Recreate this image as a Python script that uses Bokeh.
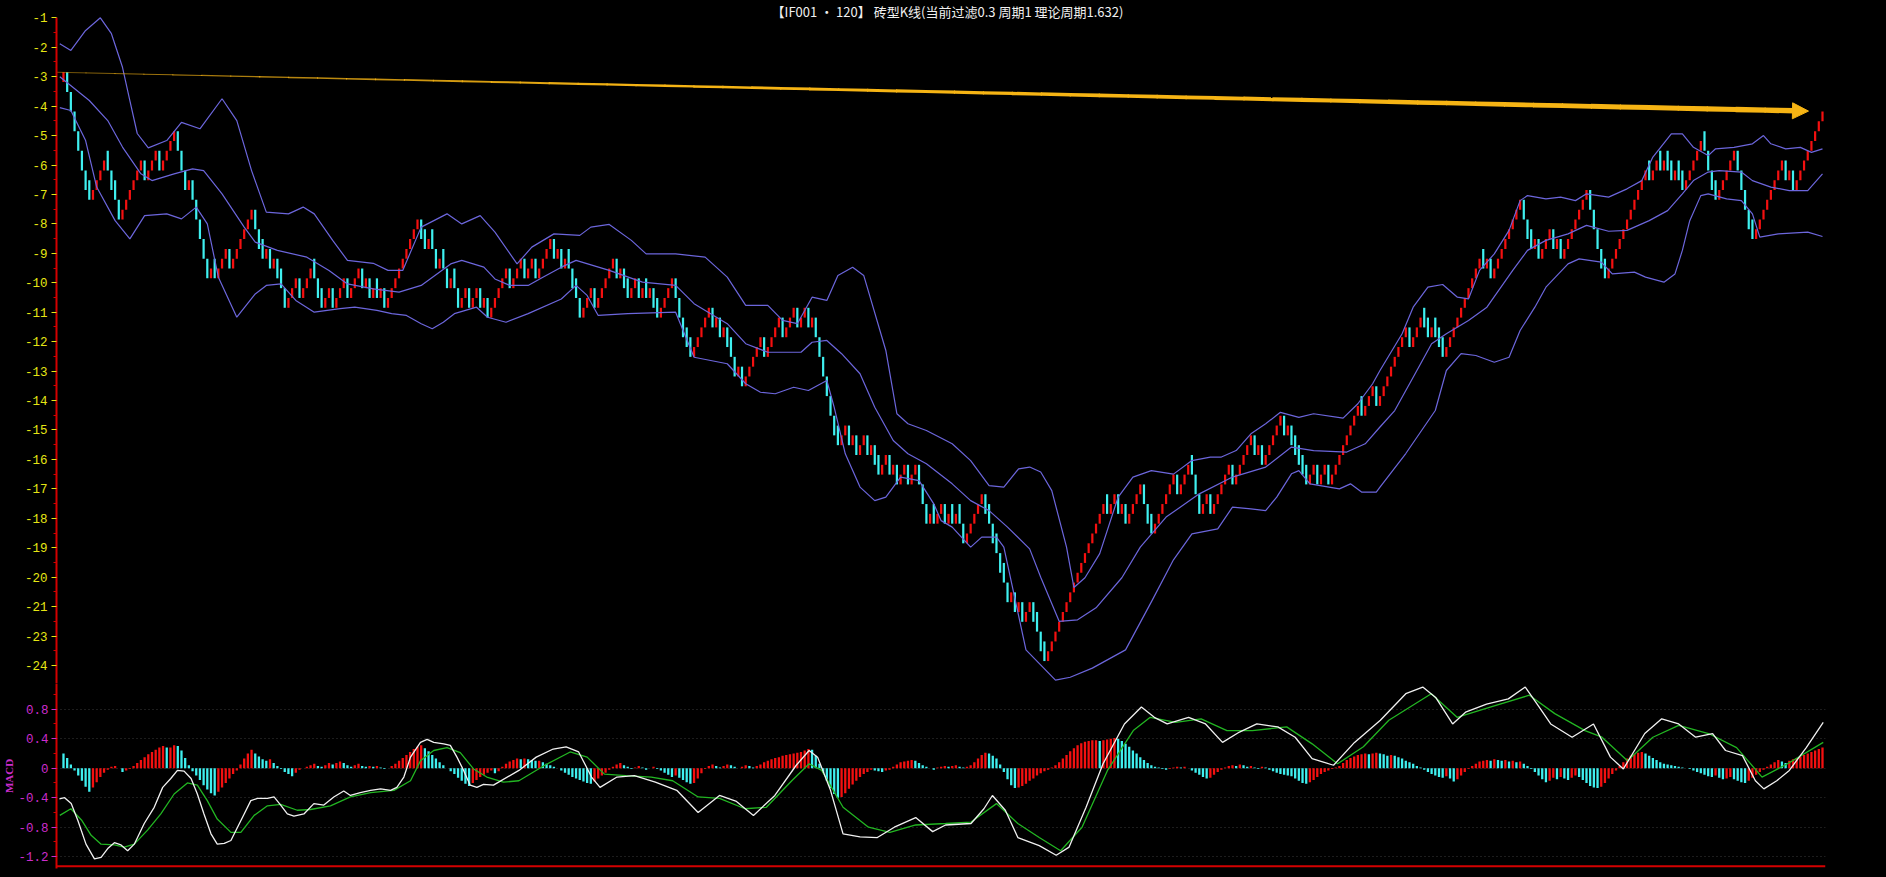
from bokeh.plotting import figure
from bokeh.layouts import column
from bokeh.models import Range1d, FixedTicker, Label, Span, Arrow, NormalHead
from bokeh.embed import file_html
from bokeh.resources import INLINE

# ---------------------------------------------------------------- data
TITLE = "【IF001 · 120】 砖型K线(当前过滤0.3 周期1 理论周期1.632)"

BRICK = 1.0 / 3.0          # brick size (price units)
FIRST_CLOSE = -2.85        # close of the first (red) brick
# one letter per bar after the first: u = up one brick (red), d = down one brick (cyan), D = down two bricks (cyan)
BAR_MOVES = (
    "DDDDDD" "d" "uuuu" "dDdDu" "uuuuu" "Du" "uuDuuuu" "DDDuDDDDDud" "uuuDuuuuuu" "DDd"
    "uDu" "DdDu" "uuDuuu" "dDd" "uuDuuu" "D" "uuu" "DuDuduD" "uuuuuuuuu" "DdudDudDu"
    "dDu" "uDuuDuDuu" "uu" "u" "Duuu" "DuuDuuuu" "DuDu" "dDdDu" "uuDuuuuu" "DuDdu"
    "uDudu" "Dd" "uuuu" "DDDdd" "uuuuu" "DuDuD" "dDuDu" "uuuuDuuuuDuuuDuu" "DuDDDDDDd"
    "uuDuDuuDu" "Dd" "uuDuDuuDuu" "DDDud" "uu" "DududD" "uuuuu" "DdDdDdDuD" "uDuuD" "dDdu"
    "uuuuuuuuuuuuuuuduuDu" "Duuuu" "DDd" "uuuuuuD" "uuu" "dDDu" "uDuuuuuDuuuuu" "DuDuuuuu"
    "DuDdddd" "uuDuuDuu" "uuuuuuduuu" "Du" "uuuuuuu" "Duuu" "dduddd" "uuuuuuuuuu" "d" "uDu"
    "uuuuuuu" "DDd" "uDuuuDuDu" "uuuuuu" "DDDDd" "uuuuuuuuuuu" "d" "uu" "dudduddu" "uuuud"
    "DDd" "uuuuu" "DDDDdu" "uuuuuuu" "DuD" "uuuuuuuu"
)

PRICE_TICKS = [-1, -2, -3, -4, -5, -6, -7, -8, -9, -10, -11, -12, -13, -14, -15, -16,
               -17, -18, -19, -20, -21, -22, -23]
PRICE_LABELS = ["-1", "-2", "-3", "-4", "-5", "-6", "-7", "-8", "-9", "-10", "-11", "-12",
                "-13", "-14", "-15", "-16", "-17", "-18", "-19", "-20", "-21", "-23", "-24"]
PRICE_MINOR = [-1.5, -2.5, -3.5, -4.5, -5.5, -6.5, -7.5, -8.5, -9.5, -10.5, -11.5, -12.5,
               -13.5, -14.5, -15.5, -16.5, -17.5, -18.5, -19.5, -20.5, -21.5, -22.5]

BB_UP_I = [-1, 2, 6, 10, 13, 16, 18, 20, 23, 28, 32, 37, 43, 47, 51, 55, 61, 65, 68, 73,
           77, 84, 88, 92, 97, 104, 108, 113, 117, 123, 127, 133, 140, 143, 148, 154, 158, 166, 174, 180,
           185, 191, 195, 199, 203, 207, 210, 214, 217, 219, 223, 226, 229, 234, 241, 246, 251, 255, 259, 262,
           265, 268, 272, 274, 277, 281, 286, 290, 295, 301, 306, 311, 314, 318, 322, 326, 330, 335, 339, 347,
           351, 355, 357, 363, 366, 370, 374, 378, 381, 384, 388, 392, 395, 397, 402, 406, 410, 413, 419, 424,
           428, 431, 436, 439, 442, 446, 448, 453, 458, 461, 463, 467, 471, 474, 477]
BB_UP = [-1.88, -2.11, -1.43, -1.0, -1.54, -2.68, -3.81, -4.93, -5.42, -5.17,
         -4.55, -4.77, -3.75, -4.49, -6.19, -7.60, -7.66, -7.43, -7.66, -8.56,
         -9.24, -9.34, -9.58, -9.58, -8.11, -7.66, -8.0, -7.72, -8.28, -9.36,
         -8.79, -8.34, -8.39, -8.11, -8.02, -8.56, -9.02, -9.02, -9.13, -9.81,
         -10.77, -10.77, -11.28, -11.39, -10.49, -10.6, -9.75, -9.47, -9.75, -10.6,
         -12.3, -14.45, -14.79, -15.02, -15.47, -16.04, -16.89, -16.94, -16.32, -16.26,
         -16.43, -17.06, -18.98, -20.35, -20.02, -19.2, -17.28, -16.6, -16.38, -16.5,
         -16.04, -15.92, -15.92, -15.7, -15.13, -14.79, -14.4, -14.57, -14.45, -14.6,
         -14.11, -13.43, -12.98, -11.73, -10.83, -10.15, -10.06, -10.49, -10.55, -9.58,
         -9.02, -8.22, -7.21, -7.04, -7.15, -7.09, -7.21, -6.98, -7.09, -6.81,
         -6.53, -5.73, -4.94, -4.94, -5.4, -5.68, -5.45, -5.4, -5.28, -5.0,
         -5.28, -5.45, -5.4, -5.57, -5.45]

BB_MID_I = [-1, 7, 12, 16, 21, 24, 30, 35, 38, 43, 49, 52, 58, 66, 72, 77, 84, 91, 97, 105,
            108, 114, 117, 121, 126, 130, 135, 139, 148, 157, 166, 171, 180, 185, 191, 200, 203, 207, 211, 216,
            220, 225, 229, 234, 241, 246, 251, 256, 262, 265, 270, 275, 280, 287, 292, 299, 308, 317, 326, 333,
            339, 348, 353, 357, 361, 366, 371, 375, 381, 386, 393, 397, 402, 408, 413, 419, 424, 430, 435, 439,
            442, 446, 449, 455, 458, 463, 468, 473, 477]
BB_MID = [-3.0, -3.81, -4.49, -5.39, -6.3, -6.53, -6.3, -6.13, -6.19, -6.98,
          -8.11, -8.62, -8.9, -9.13, -9.58, -10.04, -10.21, -10.32, -10.09, -9.36,
          -9.24, -9.47, -9.87, -10.09, -10.09, -9.81, -9.47, -9.24, -9.58, -9.98,
          -10.09, -10.71, -11.39, -12.07, -12.36, -12.36, -12.02, -11.96, -12.41, -13.09,
          -14.23, -15.36, -15.81, -16.15, -16.83, -17.40, -17.74, -18.3, -19.04, -20.0,
          -21.5, -21.45, -21.04, -20.02, -18.98, -17.96, -17.17, -16.6, -16.26, -15.58,
          -15.7, -15.75, -15.47, -14.9, -14.34, -13.21, -12.07, -11.73, -11.28, -10.83,
          -9.58, -8.9, -8.56, -8.34, -8.05, -8.25, -8.22, -7.89, -7.55, -6.98,
          -6.53, -6.24, -6.19, -6.24, -6.53, -6.75, -6.87, -6.87, -6.3]

BB_LOW_I = [-1, 2, 6, 9, 14, 18, 22, 28, 32, 36, 39, 42, 47, 52, 55, 59, 63, 68, 75, 79,
            85, 89, 93, 97, 100, 103, 106, 112, 115, 120, 126, 135, 139, 142, 145, 153, 166, 171, 180, 185,
            189, 193, 198, 202, 207, 209, 212, 216, 220, 223, 227, 232, 236, 238, 241, 246, 249, 253, 255, 261,
            269, 273, 279, 288, 295, 301, 306, 313, 317, 322, 326, 329, 333, 335, 338, 346, 349, 352, 356, 357,
            364, 372, 375, 379, 383, 388, 392, 395, 399, 402, 408, 411, 417, 420, 426, 429, 434, 437, 439, 441,
            444, 446, 451, 455, 458, 460, 465, 473, 477]
BB_LOW = [-4.05, -4.15, -5.17, -6.75, -7.89, -8.51, -7.72, -7.66, -7.83, -7.43,
          -8.0, -9.81, -11.17, -10.38, -10.09, -10.04, -10.6, -11.0, -10.88, -10.83,
          -10.94, -11.05, -11.11, -11.39, -11.56, -11.34, -11.05, -10.83, -11.17, -11.34,
          -11.05, -10.55, -10.09, -10.43, -11.11, -11.05, -11.0, -12.53, -12.75, -13.43,
          -13.72, -13.77, -13.55, -13.66, -13.32, -14.23, -15.81, -16.94, -17.40, -17.28,
          -16.6, -16.72, -17.51, -18.08, -18.3, -18.98, -18.64, -18.64, -18.98, -22.47,
          -23.5, -23.4, -23.09, -22.47, -20.84, -19.41, -18.53, -18.36, -17.62, -17.68,
          -17.74, -17.28, -16.49, -16.38, -16.83, -17.0, -16.83, -17.11, -17.11, -16.94,
          -15.8, -14.34, -12.98, -12.41, -12.47, -12.7, -12.53, -11.62, -10.83, -10.15,
          -9.36, -9.19, -9.3, -9.7, -9.64, -9.81, -9.98, -9.7, -8.9, -7.89,
          -7.04, -6.98, -7.15, -7.21, -7.66, -8.45, -8.34, -8.28, -8.43]

ARROW_I = [-1.9, 473.2]      # trend arrow: start / tip (bar index)
ARROW_V = [-2.85, -4.17]     # trend arrow: start / tip (price)

# MACD histogram, one value per bar, in hundredths
MACD_HIST_X100 = [
    20, 14, 5, -3, -10, -17, -25, -32, -26, -19, -12, -6, -2, 2, 3, 0, -5, -3, -1, 3,
    7, 11, 15, 19, 22, 25, 28, 30, 28, 28, 31, 30, 24, 14, 4, -4, -10, -16, -23, -29,
    -34, -37, -32, -26, -20, -14, -8, -3, 5, 13, 20, 25, 20, 16, 12, 10, 12, 7, 3, -1,
    -5, -8, -11, -6, -2, 0, 2, 4, 6, 3, 2, 4, 7, 5, 7, 9, 7, 4, 2, 4,
    6, 3, 2, 3, 2, 3, 1, -1, 0, 3, 6, 10, 14, 18, 22, 26, 29, 31, 27, 23,
    18, 13, 8, 4, 0, -4, -8, -13, -17, -21, -24, -20, -16, -12, -9, -6, -3, -7, -4, 2,
    6, 9, 11, 13, 12, 13, 12, 11, 10, 10, 8, 6, 4, 2, 0, -3, -6, -9, -12, -14,
    -16, -18, -20, -21, -18, -14, -10, -6, -2, 2, 5, 7, 4, 2, -1, 1, 3, 1, -2, 0,
    2, -1, -3, -6, -9, -12, -10, -13, -16, -19, -21, -20, -14, -7, -1, 3, 5, 3, 1, 3,
    5, 4, 2, 0, 2, 4, 3, 1, 3, 5, 8, 10, 12, 14, 15, 17, 18, 19, 20, 21,
    22, 24, 26, 25, 17, 6, -6, -17, -27, -35, -40, -39, -34, -28, -22, -17, -12, -8, -5, -2,
    -3, -4, -5, -3, -2, 2, 5, 8, 9, 10, 11, 10, 7, 4, 2, 0, -2, 1, 2, 3,
    2, 3, 4, 2, 1, 2, 4, 8, 13, 18, 21, 20, 17, 13, 5, -5, -15, -23, -27, -26,
    -24, -21, -17, -14, -10, -7, -4, -2, 1, 4, 8, 13, 18, 23, 27, 31, 34, 36, 37, 38,
    38, 37, 38, 39, 40, 41, 40, 37, 33, 29, 24, 20, 15, 11, 7, 4, 2, 1, -1, -2,
    -1, 1, 2, 1, 2, 0, -3, -6, -9, -12, -14, -13, -9, -5, -2, 1, 3, 4, 3, 5,
    4, 2, 3, 1, -1, 2, 1, -2, -4, -6, -8, -9, -10, -11, -14, -17, -20, -21, -19, -16,
    -12, -8, -5, -3, -1, 1, 3, 7, 11, 14, 16, 18, 19, 20, 19, 20, 21, 20, 19, 17,
    18, 17, 15, 13, 10, 8, 6, 3, 1, -2, -5, -8, -10, -12, -13, -11, -14, -18, -15, -10,
    -5, -1, 3, 6, 9, 10, 11, 10, 12, 11, 10, 11, 9, 10, 8, 9, 6, 3, -1, -5,
    -10, -15, -19, -17, -13, -15, -12, -14, -16, -13, -10, -12, -16, -20, -24, -26, -27, -25, -20, -14,
    -8, -3, 3, 8, 13, 17, 19, 21, 22, 20, 17, 14, 11, 8, 6, 5, 4, 3, 2, 1,
    0, -1, -3, -5, -7, -9, -11, -12, -10, -13, -15, -14, -12, -15, -17, -19, -20, -17, -13, -9,
    -5, -2, 2, 5, 8, 11, 9, 7, 10, 12, 14, 16, 18, 20, 22, 24, 26, 28,
]

DIF_I = [-1.1, 0.3, 2.1, 3.9, 6.1, 8.4, 10.2, 12, 13.8, 15.6,
         17.4, 19.2, 21.9, 24.6, 26.9, 29.1, 30.9, 32.7, 34.6, 36.3,
         38.1, 40, 41.7, 43.6, 45.4, 47.2, 49, 50.8, 52.6, 55.3,
         57.1, 58.9, 60.7, 62.5, 65.2, 67.9, 70.6, 73.3, 76, 77.8,
         80.5, 83.3, 86, 88.7, 90.4, 92.3, 94.1, 96.8, 98.6, 100.4,
         103.1, 104.9, 106.7, 108.5, 110.3, 112.1, 113.9, 116.6, 123.5, 128.2,
         132.8, 136.3, 139.7, 143.2, 145.5, 150.1, 154.8, 160.5, 166.3, 172.1,
         177.9, 182.5, 187.1, 192.9, 198.7, 202.2, 204.5, 208, 211.4, 216,
         220.7, 225.3, 231.1, 235.7, 239.2, 246.1, 249.6, 251.9, 255.4, 258.8,
         264.6, 269.2, 272.7, 277.3, 281.9, 287.7, 292.3, 295.8, 299.3, 305.1,
         309.7, 314.3, 318.9, 323.6, 329.3, 334, 338.6, 344.4, 350.1, 357.1,
         364, 368.6, 372.1, 376.7, 380.2, 385.9, 391.8, 396.4, 399.9, 403.3,
         409.1, 414.9, 419.5, 423, 428.8, 433.4, 438, 442.6, 447.2, 450.7,
         455.3, 458.8, 461.1, 464.6, 468, 472.6, 477.2]
DIF = [-0.415, -0.40, -0.48, -0.71, -1.03, -1.23, -1.21, -1.09, -1.01, -1.04,
       -1.12, -1.03, -0.75, -0.53, -0.26, -0.14, -0.03, -0.04, -0.14, -0.35,
       -0.62, -0.89, -1.03, -1.02, -0.98, -0.80, -0.62, -0.44, -0.41, -0.41,
       -0.39, -0.50, -0.62, -0.65, -0.62, -0.48, -0.50, -0.39, -0.31, -0.37,
       -0.33, -0.30, -0.28, -0.30, -0.26, -0.12, 0.15, 0.35, 0.39, 0.35,
       0.33, 0.31, 0.15, -0.03, -0.23, -0.26, -0.22, -0.23, -0.03, 0.15,
       0.26, 0.29, 0.22, -0.12, -0.26, -0.12, -0.10, -0.19, -0.30, -0.60,
       -0.37, -0.45, -0.64, -0.37, 0.04, 0.24, 0.15, -0.30, -0.89, -0.93,
       -0.94, -0.80, -0.67, -0.86, -0.77, -0.75, -0.55, -0.37, -0.57, -0.94,
       -1.05, -1.18, -1.07, -0.53, 0.06, 0.60, 0.83, 0.69, 0.60, 0.69,
       0.60, 0.35, 0.49, 0.60, 0.56, 0.42, 0.13, 0.04, 0.35, 0.65,
       1.01, 1.10, 0.96, 0.60, 0.76, 0.87, 0.94, 1.10, 0.85, 0.60,
       0.42, 0.60, 0.15, -0.01, 0.47, 0.67, 0.60, 0.42, 0.47, 0.24,
       0.17, -0.17, -0.28, -0.17, -0.03, 0.28, 0.62]

DEA_I = [-1, 2, 5, 7.5, 10.2, 13.8, 16.5, 19.2, 22.8, 26.4,
         30, 33.6, 36.3, 39, 41.7, 45.4, 48.1, 51.7, 55.3, 58.9,
         63.4, 67, 72.4, 77.8, 83.3, 89.6, 94.1, 96.8, 100.4, 104,
         107.6, 111.2, 114.8, 119.3, 123.5, 130.5, 137.4, 142, 146.7, 152.5,
         159.4, 165.2, 172.1, 177.9, 184.8, 190.6, 197.5, 202.2, 205.6, 211.4,
         218.3, 224.1, 231.1, 239.2, 246.1, 253, 258.8, 264.6, 270.4, 276.2,
         283.1, 290.1, 294.7, 301.6, 308.5, 315.5, 322.4, 331.7, 338.6, 345.5,
         352.5, 359.4, 370.9, 377.9, 387.1, 397.5, 404.4, 412.6, 417.2, 424.1,
         431, 438, 446.1, 453.7, 460.6, 467.5, 477.2]
DEA = [-0.64, -0.55, -0.71, -0.91, -1.03, -1.04, -1.07, -1.03, -0.84, -0.62,
       -0.35, -0.20, -0.23, -0.44, -0.69, -0.87, -0.87, -0.64, -0.51, -0.49,
       -0.57, -0.56, -0.51, -0.39, -0.33, -0.30, -0.17, 0.10, 0.24, 0.28,
       0.21, -0.01, -0.12, -0.19, -0.17, 0.04, 0.22, 0.15, -0.08, -0.10,
       -0.12, -0.17, -0.39, -0.41, -0.55, -0.53, -0.17, 0.06, -0.03, -0.53,
       -0.80, -0.87, -0.77, -0.75, -0.73, -0.48, -0.75, -0.94, -1.12, -0.80,
       -0.03, 0.51, 0.69, 0.62, 0.67, 0.51, 0.51, 0.56, 0.33, 0.06,
       0.29, 0.65, 1.01, 0.69, 0.83, 0.99, 0.74, 0.51, 0.42, 0.10,
       0.42, 0.58, 0.47, 0.28, -0.12, 0.06, 0.35]

MACD_TICKS = [0.8, 0.4, 0.0, -0.4, -0.8, -1.2]
MACD_LABELS = ["0.8", "0.4", "0", "-0.4", "-0.8", "-1.2"]
MACD_MINOR = [1.0, 0.6, 0.2, -0.2, -0.6, -1.0]

# ---------------------------------------------------------------- style / layout
M = 0                      # page margin actually used by the page template
WIN_W, WIN_H = 1886, 877
AXIS_X = 52                # page x of the y axis line
FRAME_RIGHT = 1825         # page x of right end of plotting area
SPLIT_Y = 683              # page y where the MACD panel starts
MACD_FRAME_BOTTOM = 868
BAR0_X, BAR_STEP = 59.0, 3.696       # page x of bar 0, px per bar
PRICE_REF_Y, PRICE_PX = 17.3, 29.44  # page y of price -1, px per price unit
MACD_ZERO_Y, MACD_PX = 767.7, 73.75  # page y of MACD 0, px per MACD unit
MACD_AXIS_Y = 865.7

BLACK = "#000000"
RED = "#f41010"
CYAN = "#3ff0f0"
BAND = "#6c66dc"
AXIS_RED = "#d40000"
YELLOW = "#e6e614"
MAGENTA = "#cc2ccc"
ORANGE = "#f6b414"
WHITE = "#f0f0f0"
GREEN = "#22b522"

W = WIN_W - 2 * M
MAIN_H = SPLIT_Y - M
MACD_H = WIN_H - 2 * M - MAIN_H
MACD_BB = (WIN_H - M) - MACD_FRAME_BOTTOM
LEFT_B = AXIS_X - M
RIGHT_B = W - (FRAME_RIGHT - M)

x_range = Range1d((AXIS_X - BAR0_X) / BAR_STEP, (FRAME_RIGHT - BAR0_X) / BAR_STEP)
main_y = Range1d(-1 - (SPLIT_Y - PRICE_REF_Y) / PRICE_PX, -1 + (PRICE_REF_Y - M) / PRICE_PX)
macd_y = Range1d((MACD_ZERO_Y - MACD_FRAME_BOTTOM) / MACD_PX, (MACD_ZERO_Y - SPLIT_Y) / MACD_PX)

TICK_FONT = "Liberation Mono"


def style_axis(ax, ticks, labels, minor, color, standoff=4):
    ax.ticker = FixedTicker(ticks=ticks, minor_ticks=minor)
    ax.major_label_overrides = {t: l for t, l in zip(ticks, labels)}
    ax.axis_line_color = AXIS_RED
    ax.axis_line_width = 2
    ax.major_tick_line_color = color
    ax.major_tick_in = 0
    ax.major_tick_out = 5
    ax.minor_tick_line_color = AXIS_RED
    ax.minor_tick_in = 0
    ax.minor_tick_out = 3
    ax.major_label_text_color = color
    ax.major_label_text_font = TICK_FONT
    ax.major_label_text_font_size = "12.5px"
    ax.major_label_standoff = standoff


# ---------------------------------------------------------------- main (brick) panel
main = figure(width=W, height=MAIN_H, x_range=x_range, y_range=main_y,
              output_backend="svg", toolbar_location=None,
              x_axis_location=None, y_axis_location="left",
              min_border_left=LEFT_B, min_border_right=RIGHT_B,
              min_border_top=0, min_border_bottom=0,
              background_fill_color=BLACK, border_fill_color=BLACK,
              outline_line_color=None)
main.xgrid.visible = False
main.ygrid.visible = False
style_axis(main.yaxis[0], PRICE_TICKS, PRICE_LABELS, PRICE_MINOR, YELLOW)
main.yaxis[0].bounds = (main_y.start, -1)

step = {"u": BRICK, "d": -BRICK, "D": -2 * BRICK}
closes = [FIRST_CLOSE]
ups = [True]
for mv in BAR_MOVES:
    closes.append(closes[-1] + step[mv])
    ups.append(mv == "u")
bx = list(range(len(closes)))
btop = [c if up else c + 2 * BRICK for c, up in zip(closes, ups)]
bbot = [c - BRICK if up else c for c, up in zip(closes, ups)]
bcol = [RED if up else CYAN for up in ups]
main.vbar(x=bx, top=btop, bottom=bbot, width=0.6, fill_color=bcol, line_color=None)

for xi, yv in ((BB_UP_I, BB_UP), (BB_MID_I, BB_MID), (BB_LOW_I, BB_LOW)):
    main.line(xi, yv, line_color=BAND, line_width=1.2)

# tapered trend arrow
x0, x1 = ARROW_I
y0, y1 = ARROW_V
head_len = 15.0 / BAR_STEP
bx_base = x1 - head_len
by_base = y0 + (y1 - y0) * (bx_base - x0) / (x1 - x0)
nseg = 60
sx0, sy0, sx1, sy1, sw, sa = [], [], [], [], [], []
for k in range(nseg):
    t0, t1 = k / nseg, (k + 1) / nseg
    sx0.append(x0 + (bx_base - x0) * t0)
    sx1.append(x0 + (bx_base - x0) * t1 + 0.3)
    sy0.append(y0 + (by_base - y0) * t0)
    sy1.append(y0 + (by_base - y0) * t1)
    tm = (t0 + t1) / 2
    sw.append(0.8 + 4.6 * tm)
    sa.append(0.55 + 0.45 * min(1.0, tm * 3))
main.segment(x0=sx0, y0=sy0, x1=sx1, y1=sy1, line_color=ORANGE, line_width=sw,
             line_alpha=sa, line_cap="butt")
main.add_layout(Arrow(end=NormalHead(size=16, fill_color=ORANGE, line_color=ORANGE, line_width=1),
                      x_start=bx_base - 0.5, y_start=by_base, x_end=x1, y_end=y1,
                      line_color=ORANGE, line_width=5, line_alpha=0.0))

# title (in the reference it sits at the very top edge)
main.add_layout(Label(x=943 - AXIS_X, y=MAIN_H - 20, x_units="screen", y_units="screen",
                      text=TITLE, text_align="center", text_baseline="bottom",
                      text_color=WHITE, text_font="Noto Sans CJK SC", text_font_size="13px"))

# ---------------------------------------------------------------- MACD panel
macd = figure(width=W, height=MACD_H, x_range=x_range, y_range=macd_y,
              output_backend="svg", toolbar_location=None,
              x_axis_location=None, y_axis_location="left",
              min_border_left=LEFT_B, min_border_right=RIGHT_B,
              min_border_top=0, min_border_bottom=MACD_BB,
              background_fill_color=BLACK, border_fill_color=BLACK,
              outline_line_color=None)
macd.xgrid.visible = False
macd.ygrid.ticker = FixedTicker(ticks=MACD_TICKS)
macd.ygrid.grid_line_color = "#3a3a3a"
macd.ygrid.grid_line_dash = "1 3"
style_axis(macd.yaxis[0], MACD_TICKS, MACD_LABELS, MACD_MINOR, MAGENTA, standoff=3)
ay = macd.yaxis[0]
ay.axis_label = "MACD"
ay.axis_label_standoff = 0
ay.axis_label_text_color = MAGENTA
ay.axis_label_text_font = "Liberation Serif"
ay.axis_label_text_font_style = "bold"
ay.axis_label_text_font_size = "11px"

hist = [v / 100.0 for v in MACD_HIST_X100]
hx = list(range(len(hist)))
hcol = [CYAN] + [RED if hist[i] >= hist[i - 1] else CYAN for i in range(1, len(hist))]
macd.vbar(x=hx, top=hist, bottom=0, width=0.62, fill_color=hcol, line_color=None)
macd.line(DEA_I, DEA, line_color=GREEN, line_width=1.3)
macd.line(DIF_I, DIF, line_color=WHITE, line_width=1.3)

macd.add_layout(Span(location=(MACD_ZERO_Y - MACD_AXIS_Y) / MACD_PX, dimension="width",
                     line_color=AXIS_RED, line_width=2))

layout = column(main, macd, spacing=0, styles={"background-color": BLACK})

TEMPLATE = """{% block preamble %}<style>html, body { background: #000000; }</style>{% endblock %}"""

open("out.html", "w").write(file_html(layout, INLINE, title="MACD", template=TEMPLATE))
